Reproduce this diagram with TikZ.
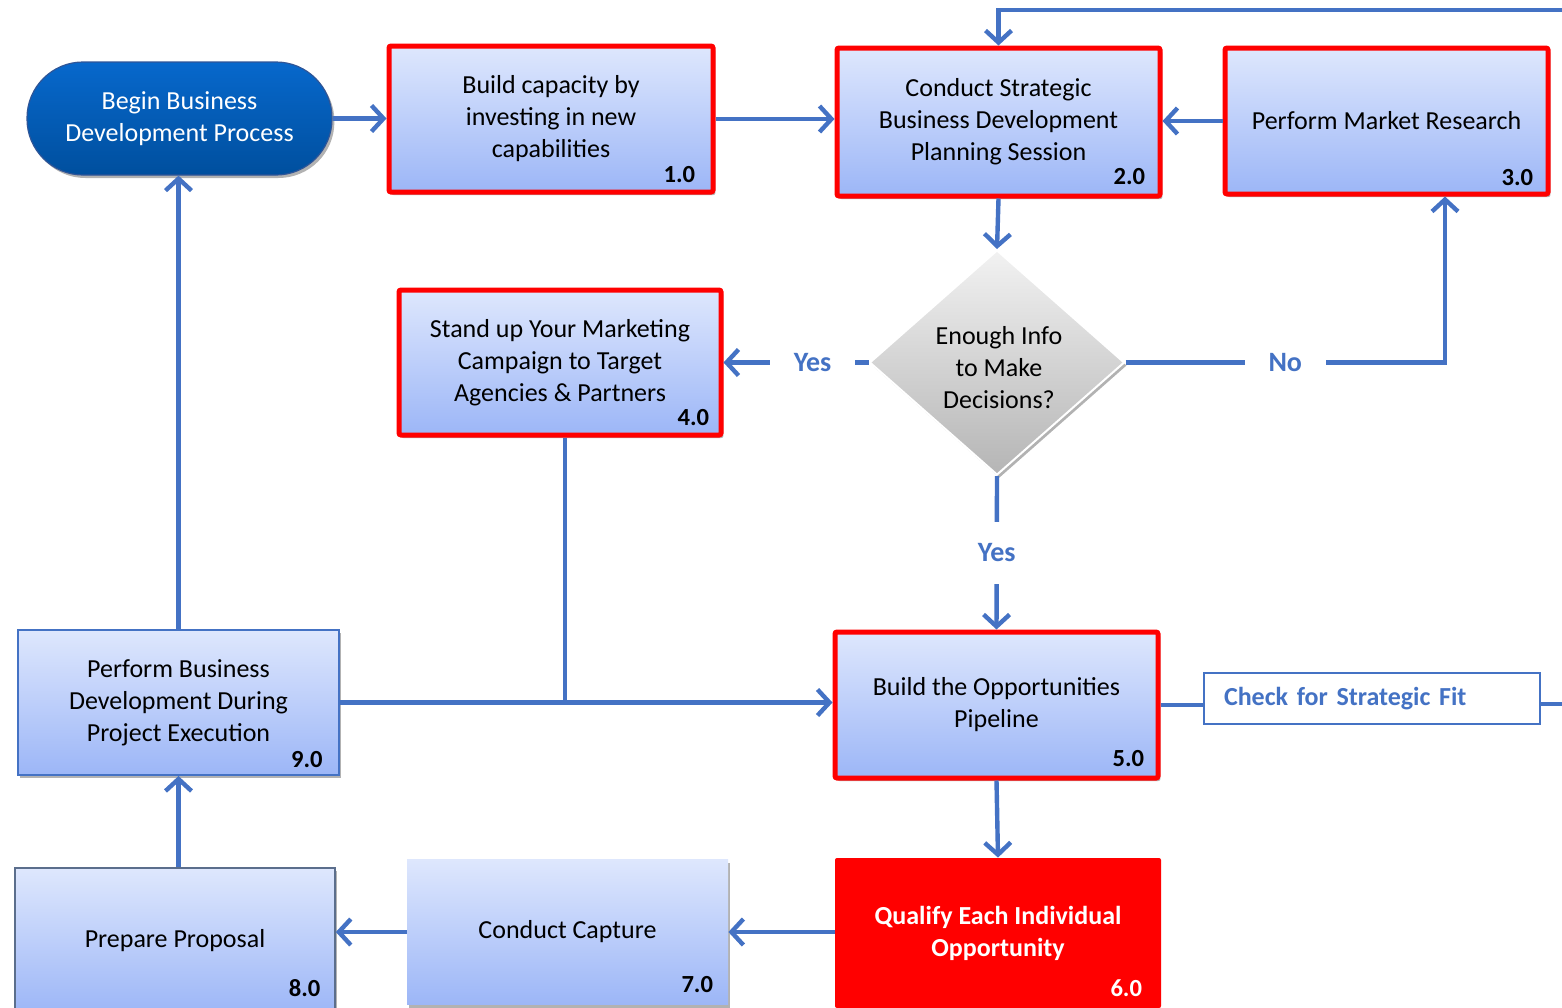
\documentclass[tikz,border=0pt]{standalone}
\usepackage{fontspec}
\setmainfont{Carlito}
\usetikzlibrary{arrows.meta,shapes.geometric,shadows}
\definecolor{flow}{HTML}{4472C4}
\definecolor{boxtop}{HTML}{DEE7FD}
\definecolor{boxbot}{HTML}{9CB6F7}
\definecolor{pilltop}{HTML}{0768CC}
\definecolor{pillbot}{HTML}{004F9E}
\definecolor{pillrim}{HTML}{2F5597}
\definecolor{diatop}{HTML}{F2F2F2}
\definecolor{diabot}{HTML}{B5B5B5}
\definecolor{proprim}{HTML}{5B6E8C}
\begin{document}
\begin{tikzpicture}[x=0.5pt,y=-0.5pt,
  shade/.style={drop shadow={shadow xshift=1.2pt,shadow yshift=-1.5pt,opacity=0.3,fill=black}},
  box/.style={rectangle, top color=boxtop, bottom color=boxbot, align=center,
    font=\fontsize{13}{16}\selectfont, inner sep=0pt, shade},
  redbox/.style={box, draw=red, line width=2.5pt, rounded corners=1pt},
  bluebox/.style={box, draw=flow, line width=1pt},
  propbox/.style={box, draw=proprim, line width=0.8pt},
  plainbox/.style={box},
  pill/.style={rectangle, rounded corners=28pt, top color=pilltop, bottom color=pillbot,
    draw=pillrim, line width=0.6pt, text=white, align=center,
    font=\fontsize{13}{16}\selectfont, inner sep=0pt, shade},
  decision/.style={diamond, top color=diatop, bottom color=diabot, draw=white,
    line width=1pt, inner sep=0pt, shade},
  num/.style={anchor=base east, font=\bfseries\fontsize{12.3}{14}\selectfont, inner sep=0pt},
  flowline/.style={draw=flow, line width=2.2pt},
  arr/.style={flowline, -{Straight Barb[length=6pt,width=13pt]}},
  lbl/.style={fill=white, text=flow, font=\bfseries\fontsize{14}{16}\selectfont,
    inner xsep=12pt, inner ysep=11pt}
]
\useasboundingbox (0,0) rectangle (1562,1007);

% start of the process
\node[pill, minimum width=152.5pt, minimum height=56.5pt] (beg) at (179.5,118.5)
  {Begin Business\\Development Process};

% process steps
\node[redbox, minimum width=162pt, minimum height=73pt] (b1) at (551,119)
  {Build capacity by\\investing in new\\capabilities};
\node[redbox, minimum width=161.5pt, minimum height=74pt] (b2) at (998.5,122)
  {Conduct Strategic\\Business Development\\Planning Session};
\node[redbox, minimum width=161.5pt, minimum height=73pt] (b3) at (1386.5,121)
  {Perform Market Research};
\node[redbox, minimum width=161pt, minimum height=72.5pt] (b4) at (560,362.5)
  {Stand up Your Marketing\\Campaign to Target\\Agencies \& Partners};
\node[redbox, minimum width=161.5pt, minimum height=73pt] (b5) at (996.5,705)
  {Build the Opportunities\\Pipeline};
\node[rectangle, fill=red, text=white, rounded corners=1pt, minimum width=163pt,
  minimum height=75pt, align=center, inner sep=0pt,
  font=\bfseries\fontsize{13}{16}\selectfont] (b6) at (998,933)
  {Qualify Each Individual\\Opportunity};
\node[plainbox, minimum width=160.5pt, minimum height=72.5pt] (b7) at (567.5,932)
  {Conduct Capture};
\node[propbox, minimum width=160pt, minimum height=73pt] (b8) at (175,941)
  {Prepare Proposal};
\node[bluebox, minimum width=160.5pt, minimum height=72.5pt] (b9) at (178.5,702.5)
  {Perform Business\\Development During\\Project Execution};

% step numbers
\node[num] (n1) at ([shift={(-20,-12)}]b1.south east) {1.0};
\node[num] (n2) at ([shift={(-17,-14)}]b2.south east) {2.0};
\node[num] (n3) at ([shift={(-17,-11)}]b3.south east) {3.0};
\node[num] (n4) at ([shift={(-14,-12)}]b4.south east) {4.0};
\node[num] (n5) at ([shift={(-16,-14)}]b5.south east) {5.0};
\node[num, text=white] (n6) at ([shift={(-19,-12)}]b6.south east) {6.0};
\node[num] (n7) at ([shift={(-15,-12)}]b7.south east) {7.0};
\node[num] (n8) at ([shift={(-15,-18)}]b8.south east) {8.0};
\node[num] (n9) at ([shift={(-17,-9)}]b9.south east) {9.0};

% decision
\node[decision, minimum width=127.5pt, minimum height=112.5pt] (dia) at (997,362.5) {};
\node[align=center, font=\fontsize{13}{16}\selectfont, inner sep=0pt] (diatxt) at (999,368)
  {Enough Info\\to Make\\Decisions?};

% strategic fit check
\node[rectangle, draw=flow, line width=0.8pt, fill=white, text=flow,
  text width=148pt, align=left, inner xsep=10pt, minimum height=25.5pt,
  font=\bfseries\fontsize{13}{16}\selectfont] (chk) at (1372,698.5)
  {Check for Strategic Fit};

% loose ends of the feedback lines
\coordinate (topin) at (1570,10);
\coordinate (fitout) at (1570,704);
\coordinate (nocorner) at (1445,362.5);

% connectors
\draw[arr] (beg.east) -- (beg.east -| b1.west);
\draw[arr] (b1.east) -- (b1.east -| b2.west);
\draw[arr] (b3.west) -- (b3.west -| b2.east);
\draw[arr] (topin) -| (b2.north);
\draw[arr] (b2.south) -- (dia.north);
\draw[arr] (dia.west) -- node[lbl, pos=0.386] (yes1) {Yes} (b4.east);
\draw[arr] (dia.east) -- node[lbl, pos=0.5] (no) {No} (nocorner) -- (nocorner |- b3.south);
\draw[arr] (dia.south) -- node[lbl, pos=0.5] (yes2) {Yes} (b5.north);
\draw[flowline] ([xshift=2.5pt]b4.south) -- ([xshift=2.5pt]b4.south |- b9.east);
\draw[arr] (b9.east) -- (b9.east -| b5.west);
\draw[flowline] (b5.east) -- (b5.east -| chk.west);
\draw[flowline] (chk.east |- fitout) -- (fitout);
\draw[arr] (b5.south) -- (b6.north);
\draw[arr] (b7.east -| b6.west) -- (b7.east);
\draw[arr] (b7.west) -- (b7.west -| b8.east);
\draw[arr] (b9.south |- b8.north) -- (b9.south);
\draw[arr] (b9.north) -- (b9.north |- beg.south);
\end{tikzpicture}
\end{document}
